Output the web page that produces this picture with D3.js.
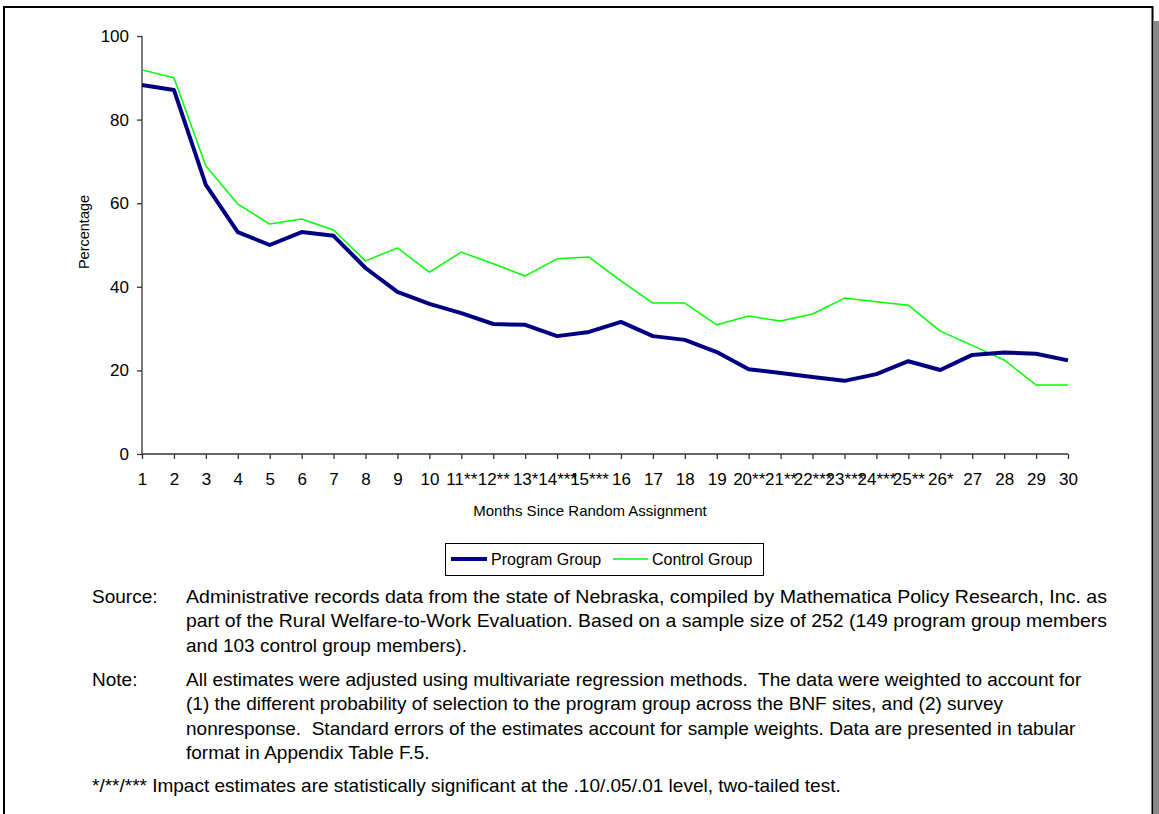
<!DOCTYPE html>
<html><head><meta charset="utf-8">
<script src="https://cdn.jsdelivr.net/npm/d3@7"></script>
<style>
body{margin:0;background:#fff;}
svg text{font-family:"Liberation Sans",Arial,sans-serif;fill:#000;white-space:pre;}
</style></head>
<body>
<svg id="chart" width="1159" height="814"></svg>
<script>
const months = d3.range(1, 31);
const monthLabels = ["1","2","3","4","5","6","7","8","9","10","11**","12**","13*","14***","15***","16","17","18","19","20**","21**","22***","23***","24***","25**","26*","27","28","29","30"];
const programGroup = [88.3,87.1,64.4,53.1,50.0,53.1,52.2,44.5,38.8,35.9,33.7,31.1,30.9,28.2,29.2,31.6,28.2,27.3,24.4,20.3,19.4,18.4,17.5,19.1,22.2,20.1,23.7,24.3,24.0,22.4];
const controlGroup = [91.9,90.0,68.9,59.8,55.0,56.2,53.6,46.2,49.3,43.5,48.3,45.5,42.6,46.7,47.1,41.4,36.1,36.1,30.9,33.0,31.8,33.5,37.3,36.4,35.6,29.4,26.0,22.5,16.5,16.5];
const yTicks = [0,20,40,60,80,100];
const seriesNames = ["Program Group","Control Group"];
const sourceLines = ["Administrative records data from the state of Nebraska, compiled by Mathematica Policy Research, Inc. as","part of the Rural Welfare-to-Work Evaluation. Based on a sample size of 252 (149 program group members","and 103 control group members)."];
const noteLines = ["All estimates were adjusted using multivariate regression methods.  The data were weighted to account for","(1) the different probability of selection to the program group across the BNF sites, and (2) survey","nonresponse.  Standard errors of the estimates account for sample weights. Data are presented in tabular","format in Appendix Table F.5."];
const sigNote = "*/**/*** Impact estimates are statistically significant at the .10/.05/.01 level, two-tailed test.";

const svg = d3.select("#chart");
// outer frame with shadow
svg.append("rect").attr("x",1154).attr("y",21).attr("width",6).attr("height",800).attr("fill","#8a8a8a");
svg.append("rect").attr("x",4).attr("y",7).attr("width",1148.5).attr("height",820)
  .attr("fill","#fff").attr("stroke","#000").attr("stroke-width",2);

const x = d3.scaleLinear().domain([1,30]).range([142,1068]);
const y = d3.scaleLinear().domain([0,100]).range([454,36]);

const yAxis = svg.append("g").attr("transform","translate(142,0)")
  .call(d3.axisLeft(y).tickValues(yTicks).tickSize(5).tickPadding(8));
const xAxis = svg.append("g").attr("transform","translate(0,454)")
  .call(d3.axisBottom(x).tickValues(months).tickSize(5).tickPadding(14).tickFormat((d,i)=>monthLabels[i]));
[yAxis,xAxis].forEach(g=>{
  g.selectAll("path,line").attr("stroke","#333").attr("stroke-width",1.3);
  g.selectAll("text").attr("font-size","17px").attr("font-family","Liberation Sans, Arial, sans-serif").attr("fill","#000");
});
yAxis.select(".domain").attr("d","M0,36V454");
xAxis.select(".domain").attr("d","M142,0H1068");

svg.append("text").attr("x",590).attr("y",516).attr("text-anchor","middle").attr("font-size","15px").text("Months Since Random Assignment");
svg.append("text").attr("transform","translate(89,232) rotate(-90)").attr("text-anchor","middle").attr("font-size","14.5px").text("Percentage");

const line = d3.line().x((d,i)=>x(months[i])).y(d=>y(d));
svg.append("path").datum(controlGroup).attr("d",line).attr("fill","none").attr("stroke","#00ff00").attr("stroke-width",1.5).attr("stroke-linejoin","round");
svg.append("path").datum(programGroup).attr("d",line).attr("fill","none").attr("stroke","#000080").attr("stroke-width",4).attr("stroke-linejoin","round");

// legend
const lg = svg.append("g");
lg.append("rect").attr("x",445.5).attr("y",543.5).attr("width",318).attr("height",32).attr("fill","#fff").attr("stroke","#000").attr("stroke-width",1);
lg.append("line").attr("x1",451).attr("x2",487).attr("y1",559).attr("y2",559).attr("stroke","#000080").attr("stroke-width",4);
lg.append("text").attr("x",491).attr("y",565).attr("font-size","16px").text(seriesNames[0]);
lg.append("line").attr("x1",613).attr("x2",648).attr("y1",559).attr("y2",559).attr("stroke","#00ff00").attr("stroke-width",1.5);
lg.append("text").attr("x",652).attr("y",565).attr("font-size","16px").text(seriesNames[1]);

// notes
const fs = "19px";
svg.append("text").attr("x",92).attr("y",603).attr("font-size",fs).text("Source:");
sourceLines.forEach((t,i)=>{
  const tx = svg.append("text").attr("x",186).attr("y",603+i*24.3).attr("font-size",fs).text(t);
  if (i < 2) tx.attr("textLength",921).attr("lengthAdjust","spacingAndGlyphs");
});
svg.append("text").attr("x",92).attr("y",686).attr("font-size",fs).text("Note:");
noteLines.forEach((t,i)=>svg.append("text").attr("x",186).attr("y",686+i*24.3).attr("font-size",fs).text(t));
svg.append("text").attr("x",92).attr("y",792).attr("font-size",fs).text(sigNote);
</script>
</body></html>
